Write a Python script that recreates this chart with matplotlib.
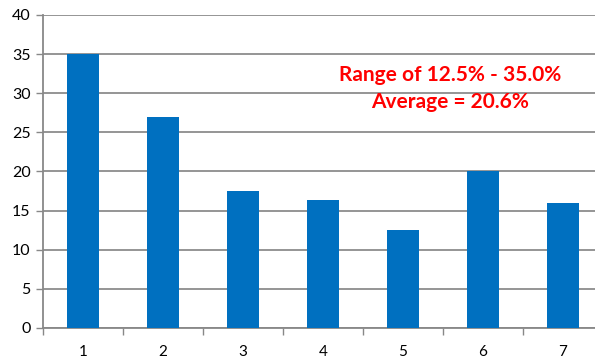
import matplotlib.pyplot as plt

categories = [1, 2, 3, 4, 5, 6, 7]
values = [35, 27, 17.5, 16.3, 12.5, 20, 16]
y_ticks = [0, 5, 10, 15, 20, 25, 30, 35, 40]

plt.rcParams['font.family'] = ['Lato', 'DejaVu Sans']

fig = plt.figure(figsize=(5.95, 3.62), dpi=100)
ax = fig.add_axes([0.0723, 0.094, 0.941, 0.8646])

ax.bar(categories, values, width=0.4, color='#0070C0', zorder=3)

ax.set_xlim(0.5, 7.5)
ax.set_ylim(0, 40)
ax.set_yticks(y_ticks)
ax.set_xticks(categories)
ax.set_xticks([c - 0.5 for c in categories] + [7.5], minor=True)
ax.tick_params(axis='x', which='major', length=0, pad=12, labelsize=11)
ax.tick_params(axis='x', which='minor', length=5, direction='out', color='#888888', width=1)
ax.tick_params(axis='y', length=5, direction='out', color='#888888', width=1, labelsize=11.5, pad=4)

ax.grid(axis='y', color='#8c8c8c', linewidth=1.3, zorder=0)
for s in ['top', 'right']:
    ax.spines[s].set_visible(False)
for s in ['left', 'bottom']:
    ax.spines[s].set_color('#888888')
    ax.spines[s].set_linewidth(1.3)

ax.text(5.59, 30.6, 'Range of 12.5% - 35.0%\nAverage = 20.6%', color='red',
        fontsize=15, fontweight='bold', ha='center', va='center', linespacing=1.4)

fig.savefig('out.png', dpi=100)
